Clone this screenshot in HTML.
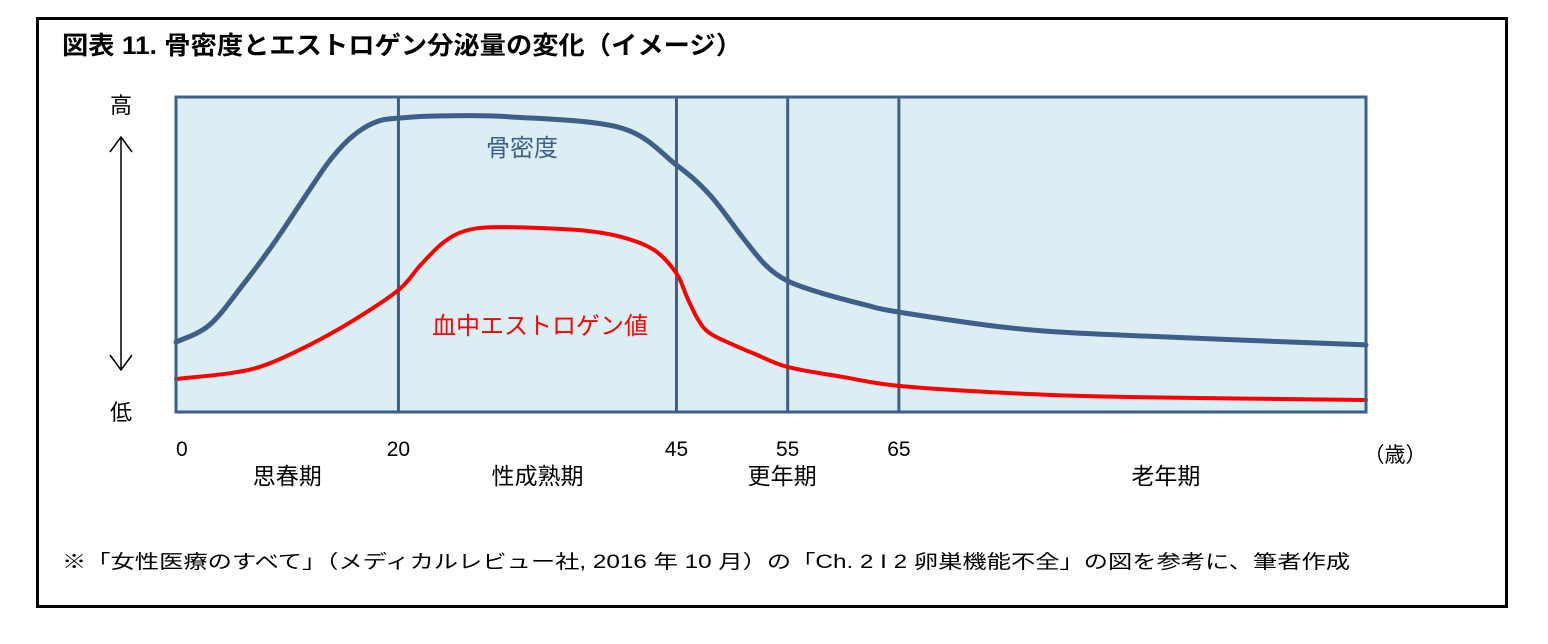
<!DOCTYPE html>
<html><head><meta charset="utf-8">
<style>
html,body{margin:0;padding:0;background:#fff;}
svg{display:block;font-family:"Liberation Sans","Noto Sans CJK JP",sans-serif;}
</style></head>
<body>
<svg id="chart" width="1548" height="644" viewBox="0 0 1548 644">
<rect x="37.5" y="18.5" width="1469" height="588" fill="#fff" stroke="#000" stroke-width="3"/>
<text x="62" y="54" font-size="25" font-weight="bold" textLength="680" lengthAdjust="spacingAndGlyphs">図表 11.  骨密度とエストロゲン分泌量の変化（イメージ）</text>
<rect x="176" y="97" width="1190" height="315" fill="#dbeef4"/>
<g id="grid"></g>
<g id="series"></g>
<rect x="176" y="97" width="1190" height="315" fill="none" stroke="#3e5f8a" stroke-width="3"/>
<text x="121" y="113" font-size="22" text-anchor="middle">高</text>
<text x="121" y="420" font-size="22" text-anchor="middle">低</text>
<g stroke="#000" stroke-width="1.5" fill="none">
<line x1="121" y1="137" x2="121" y2="370"/>
<polyline points="110,152 121,137 132,152"/>
<polyline points="110,355 121,370 132,355"/>
</g>
<text x="522" y="156" font-size="24" fill="#3e5f8a" text-anchor="middle">骨密度</text>
<text x="540" y="334" font-size="24" fill="#ff0000" text-anchor="middle">血中エストロゲン値</text>
<g id="ticks"></g>
<text x="1395" y="462" font-size="21" text-anchor="middle">（歳）</text>
<g id="stages"></g>
<text x="62" y="568" font-size="19" textLength="1288" lengthAdjust="spacingAndGlyphs">※「女性医療のすべて」（メディカルレビュー社, 2016 年 10 月）の「Ch. 2  I 2 卵巣機能不全」の図を参考に、筆者作成</text>
</svg>
<script>
const boneAges=[0,3,6,9,12,14,16,18,20,24,30,40,45,48,51,53,55,58,62,65,75,85,107];
const boneValues=[22.2,27.6,40.3,54.6,70.5,80.6,87.9,92.1,93.3,94,93.7,90.2,78.4,68.9,55.2,46.7,41.6,37.8,34,31.7,26.7,24.4,21.3];
const estrogenAges=[0,5,8,12,16,20,22,24,26,29,36,40,43,45,46,47,48,50,52,55,60,65,75,85,107];
const estrogenValues=[10.5,12.4,14.9,21.3,29.2,38.7,46.7,53.7,57.5,58.7,57.8,55.6,51.4,44,36,29,25,21.5,18.5,14.3,11.1,8.3,6,4.8,3.8];
const tickAges=[0,20,45,55,65];
const dividerAges=[20,45,55,65];
const stageLabels=["思春期","性成熟期","更年期","老年期"];
const stageAges=[10,32.5,54.5,89];

const NS="http://www.w3.org/2000/svg";
const X=a=>176+(a/107)*1190;
const Y=v=>412-(v/100)*315;
function mk(tag,attrs,parent){const e=document.createElementNS(NS,tag);for(const k in attrs)e.setAttribute(k,attrs[k]);parent.appendChild(e);return e;}
function smooth(xs,ys){const p=xs.map((x,i)=>[X(x),Y(ys[i])]);let d="M"+p[0][0]+","+p[0][1];
for(let i=0;i<p.length-1;i++){const p0=p[i-1]||p[i],p1=p[i],p2=p[i+1],p3=p[i+2]||p2;
const c1=[p1[0]+(p2[0]-p0[0])/6,p1[1]+(p2[1]-p0[1])/6],c2=[p2[0]-(p3[0]-p1[0])/6,p2[1]-(p3[1]-p1[1])/6];
d+=` C${c1[0]},${c1[1]} ${c2[0]},${c2[1]} ${p2[0]},${p2[1]}`;}return d;}
const grid=document.getElementById('grid');
dividerAges.forEach(a=>{const l=mk('line',{x1:X(a),x2:X(a),y1:97,y2:412,stroke:'#3e5f8a','stroke-width':3},grid);

});
const s=document.getElementById('series');
const b=mk('path',{d:smooth(boneAges,boneValues),fill:'none',stroke:'#3e5f8a','stroke-width':5,'stroke-linecap':'round'},s);


const e=mk('path',{d:smooth(estrogenAges,estrogenValues),fill:'none',stroke:'#ff0000','stroke-width':4,'stroke-linecap':'round'},s);


const t=document.getElementById('ticks');
tickAges.forEach(a=>{const tx=mk('text',{x:X(a),y:456,'font-size':21,'text-anchor':a===0?'start':'middle'},t);tx.textContent=a;

});
const st=document.getElementById('stages');
stageLabels.forEach((n,i)=>{const tx=mk('text',{x:X(stageAges[i]),y:484,'font-size':23,'text-anchor':'middle'},st);tx.textContent=n;

});
</script>
</body></html>
